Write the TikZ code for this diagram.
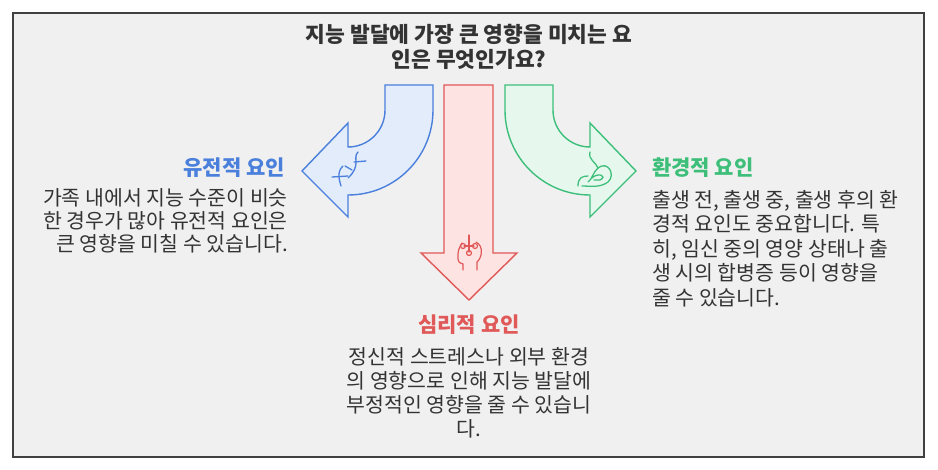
\documentclass[tikz,border=0pt]{standalone}
\usepackage{fontspec}
\setmainfont{Noto Sans CJK KR}
\begin{document}
\begin{tikzpicture}[x=1pt,y=-1pt,
  txt/.style={font=\fontsize{20.5}{23}\selectfont,text=black!80,inner sep=0pt},
  ttl/.style={font=\bfseries\fontsize{21}{25}\selectfont,inner sep=0pt}]
\definecolor{bl}{HTML}{4A7FDC}\definecolor{blf}{HTML}{E2ECFB}
\definecolor{rd}{HTML}{E05858}\definecolor{rdf}{HTML}{FDE4E2}
\definecolor{gr}{HTML}{3DBF7A}\definecolor{grf}{HTML}{E6F8EE}
\useasboundingbox (0,0) rectangle (938,470);
\fill[white] (0,0) rectangle (938,470);
\draw[draw=black!75,fill=black!6,line width=1.2pt] (13,13) rectangle (924,457);
\node[ttl,align=center,text=black!80,font=\bfseries\fontsize{21.5}{25}\selectfont] (title) at (469,47) {지능 발달에 가장 큰 영향을 미치는 요\\인은 무엇인가요?};
% blue arrow
\draw[bl,fill=blf,line width=1.4pt,line join=miter] (385,85) -- (433,85) -- (433,110) .. controls (433,157) and (395,195) .. (348,195) -- (348,217) -- (302,171) -- (348,123) -- (348,147) .. controls (368,147) and (385,131) .. (385,110) -- cycle;
% red arrow
\draw[rd,fill=rdf,line width=1.4pt] (444,85) -- (493,85) -- (493,253) -- (517,253) -- (469,300) -- (421,253) -- (444,253) -- cycle;
% green arrow
\draw[gr,fill=grf,line width=1.4pt,line join=miter] (553,85) -- (505,85) -- (505,110) .. controls (505,157) and (543,195) .. (590,195) -- (590,217) -- (636,171) -- (590,123) -- (590,147) .. controls (570,147) and (553,131) .. (553,110) -- cycle;
% icons
\begin{scope}[bl,line width=1.3pt,line cap=round]
\draw (343,166) .. controls (336,172) and (340,182) .. (341,186);
\draw (358,152) .. controls (352,158) and (362,165) .. (348,178);
\draw (332,177) -- (348,176); \draw (354,162) -- (366,161);
\draw (345,166) -- (352,170);
\end{scope}
\begin{scope}[gr,line width=1.3pt,line cap=round]
\draw (590,152) .. controls (588,160) and (596,162) .. (598,168) .. controls (593,172) and (592,180) .. (588,182);
\draw (598,168) .. controls (608,160) and (616,175) .. (608,182) .. controls (600,188) and (590,186) .. (582,186);
\draw (578,186) .. controls (578,178) and (582,176) .. (588,176);
\draw (592,178) .. controls (598,172) and (608,176) .. (600,180) -- (594,180);
\end{scope}
\begin{scope}[rd,line width=1.2pt,line cap=round]
\draw (469,235) -- (469,252); \draw (464,246) -- (474,246);
\draw (463,246) circle (2.5); \draw (475,246) circle (2.5); \draw (469,253) circle (2.5);
\draw (463,270) -- (463,264) .. controls (455,262) and (459,256) .. (458,254) .. controls (458,248) and (462,244) .. (462,243);
\draw (476,242) .. controls (484,246) and (482,258) .. (477,262) -- (477,270);
\end{scope}
% labels
\node[ttl,text=bl,anchor=east] (lt) at (285,168) {유전적 요인};
\node[txt,align=right,anchor=north east] (lb) at (288,188) {가족 내에서 지능 수준이 비슷\\한 경우가 많아 유전적 요인은\\큰 영향을 미칠 수 있습니다.};
\node[ttl,text=gr,anchor=west] (gt) at (652,168) {환경적 요인};
\node[txt,align=left,anchor=north west,font=\fontsize{20.5}{24.5}\selectfont] (gb) at (652,190) {출생 전, 출생 중, 출생 후의 환\\경적 요인도 중요합니다. 특\\히, 임신 중의 영양 상태나 출\\생 시의 합병증 등이 영향을\\줄 수 있습니다.};
\node[ttl,text=rd] (rt) at (469,325) {심리적 요인};
\node[txt,align=center,anchor=north,font=\fontsize{20.5}{24}\selectfont] (rb) at (469,347) {정신적 스트레스나 외부 환경\\의 영향으로 인해 지능 발달에\\부정적인 영향을 줄 수 있습니\\다.};
\end{tikzpicture}
\end{document}
